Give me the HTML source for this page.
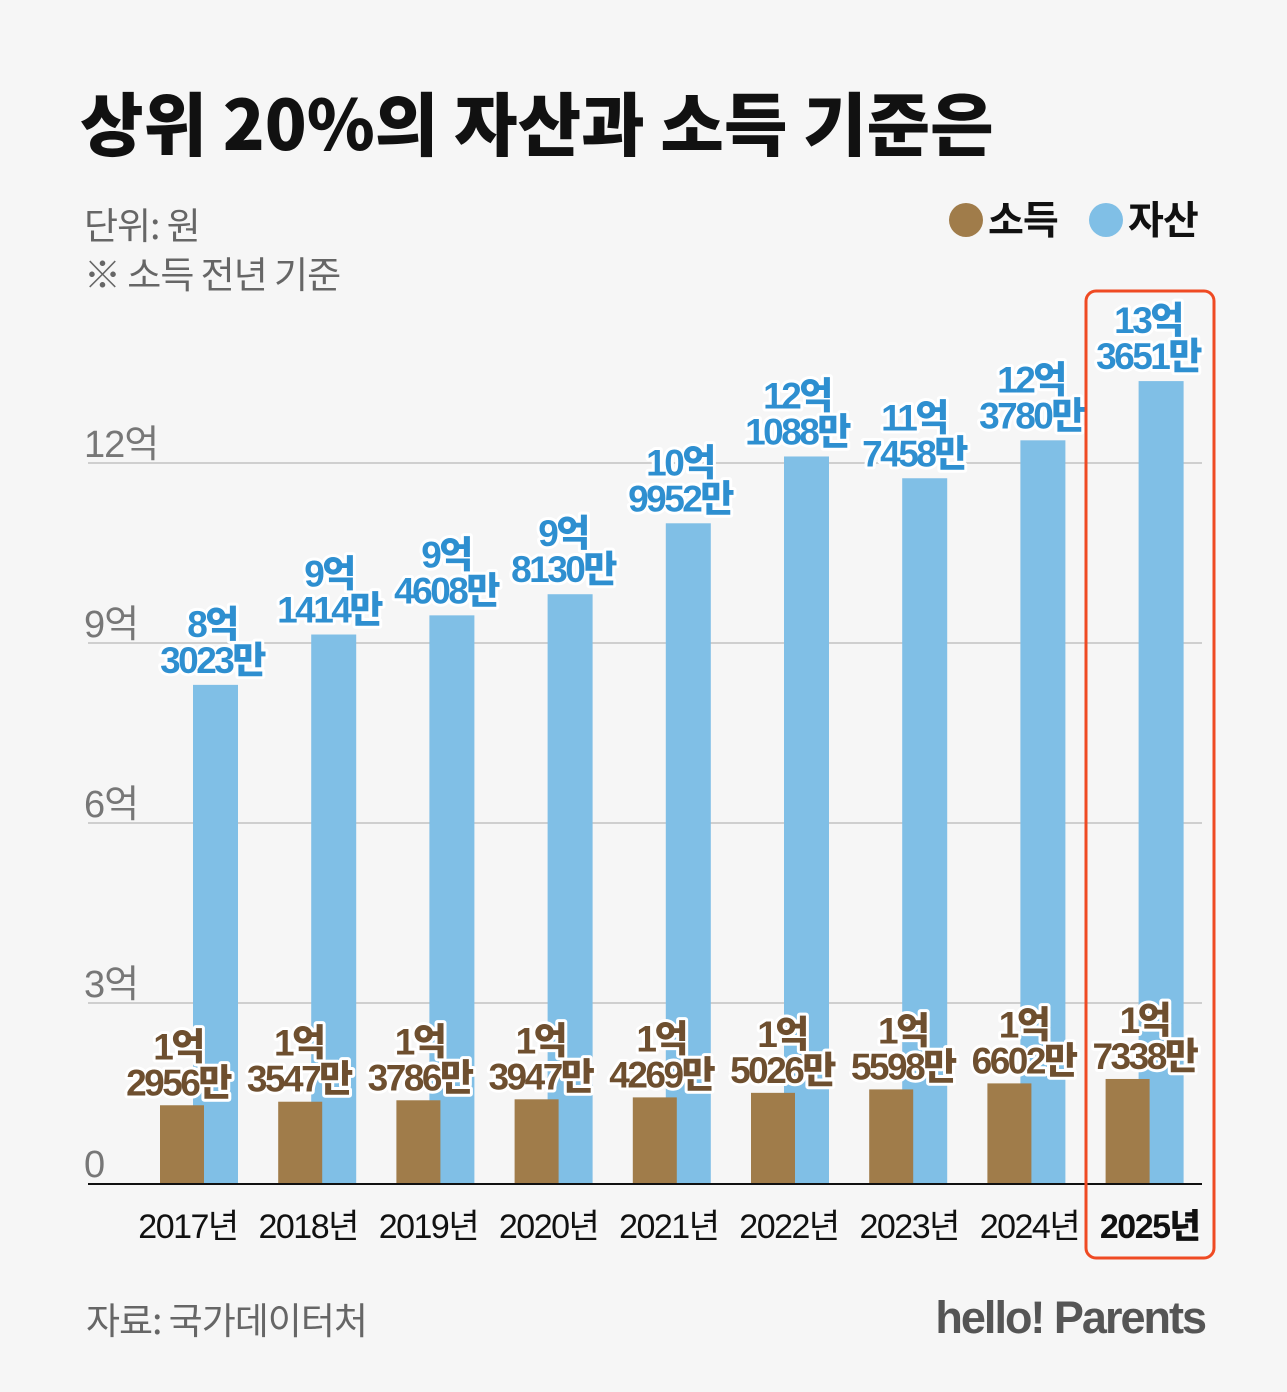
<!DOCTYPE html>
<html><head><meta charset="utf-8">
<style>
html,body{margin:0;padding:0;background:#f6f6f6;}
svg{display:block;font-family:"Liberation Sans","Noto Sans CJK KR",sans-serif;}
</style></head>
<body>
<svg id="chart" width="1287" height="1392" viewBox="0 0 1287 1392">
<rect x="0" y="0" width="1287" height="1392" fill="#f6f6f6"/>
<text x="80" y="150" font-size="69" font-weight="900" fill="#111" letter-spacing="0" font-family="Noto Sans CJK KR, sans-serif">상위 20%의 자산과 소득 기준은</text>
<text x="84" y="239" font-size="37" fill="#666" letter-spacing="-1" font-family="Noto Sans CJK KR, sans-serif">단위: 원</text>
<text x="84" y="288" font-size="37" fill="#666" letter-spacing="-1" font-family="Noto Sans CJK KR, sans-serif">※ 소득 전년 기준</text>
<g>
<circle cx="966" cy="220" r="17" fill="#a07c4a"/>
<text x="988" y="234" font-size="39" font-weight="700" fill="#111" letter-spacing="-1" font-family="Noto Sans CJK KR, sans-serif">소득</text>
<circle cx="1106" cy="220" r="17" fill="#80bfe6"/>
<text x="1128" y="234" font-size="39" font-weight="700" fill="#111" letter-spacing="-1" font-family="Noto Sans CJK KR, sans-serif">자산</text>
</g>
<g id="grid"></g>
<g id="bars"></g>
<g id="labels"></g>
<rect x="1086" y="291" width="128" height="967" rx="10" fill="none" stroke="#ef4a23" stroke-width="3"/>
<text x="86" y="1334" font-size="37" fill="#666" letter-spacing="-1" font-family="Noto Sans CJK KR, sans-serif">자료: 국가데이터처</text>
<text x="1205" y="1333" font-size="45" font-weight="700" fill="#555" text-anchor="end" letter-spacing="-2">hello! Parents</text>
</svg>
<script>
const categories = ["2017년","2018년","2019년","2020년","2021년","2022년","2023년","2024년","2025년"];
const assetValues = [8.3023,9.1414,9.4608,9.8130,10.9952,12.1088,11.7458,12.3780,13.3651];
const incomeValues = [1.2956,1.3547,1.3786,1.3947,1.4269,1.5026,1.5598,1.6602,1.7338];
const assetLine1 = ["8억","9억","9억","9억","10억","12억","11억","12억","13억"];
const assetLine2 = ["3023만","1414만","4608만","8130만","9952만","1088만","7458만","3780만","3651만"];
const incomeLine1 = ["1억","1억","1억","1억","1억","1억","1억","1억","1억"];
const incomeLine2 = ["2956만","3547만","3786만","3947만","4269만","5026만","5598만","6602만","7338만"];
const yTicks = [0,3,6,9,12];
const yTickLabels = ["0","3억","6억","9억","12억"];

const NS="http://www.w3.org/2000/svg";
const y0=1183, pxPer=60;
function yScale(v){return y0 - v*pxPer;}
function xGroup(i){return 160 + i*118.2;}
function mk(tag,attrs,parent){const e=document.createElementNS(NS,tag);for(const k in attrs)e.setAttribute(k,attrs[k]);parent.appendChild(e);return e;}
const grid=document.getElementById('grid'), bars=document.getElementById('bars'), labels=document.getElementById('labels');

yTicks.forEach((t,i)=>{
  const y=yScale(t);
  if(t>0){
    const l=mk('line',{x1:88,x2:1202,y1:y,y2:y,stroke:'#cfcfcf','stroke-width':2},grid);
    
    
  }
  const tx=mk('text',{x:84,y:y-6,'font-size':38,fill:'#777','letter-spacing':'-1'},grid);
  tx.textContent=yTickLabels[i];
  
  
});

categories.forEach((c,i)=>{
  const gx=xGroup(i);
  const ay=yScale(assetValues[i]);
  const ab=mk('rect',{x:gx+33,y:ay,width:45,height:y0-ay,fill:'#80bfe6'},bars);
  
  
  const iy=yScale(incomeValues[i]);
  const ib=mk('rect',{x:gx,y:iy,width:44,height:y0-iy,fill:'#a07c4a'},bars);
  
  

  const acx=212+i*117;
  [[assetLine1[i],ay-48],[assetLine2[i],ay-12]].forEach(([s,yy])=>{
    const t=mk('text',{x:acx,y:yy,'font-size':37,'font-weight':900,fill:'#2e8fd0','text-anchor':'middle','letter-spacing':'-2.5',stroke:'#fff','stroke-width':6,'paint-order':'stroke','stroke-linejoin':'round'},labels);
    t.textContent=s;
    
    
  });
  const icx=178+i*120.8;
  [[incomeLine1[i],iy-46],[incomeLine2[i],iy-10]].forEach(([s,yy])=>{
    const t=mk('text',{x:icx,y:yy,'font-size':37,'font-weight':900,fill:'#6e4f2f','text-anchor':'middle','letter-spacing':'-2.5',stroke:'#fff','stroke-width':6,'paint-order':'stroke','stroke-linejoin':'round'},labels);
    t.textContent=s;
    
    
  });
  const xl=mk('text',{x:188+i*120.2,y:1238,'font-size':34,'font-weight':i===8?900:400,fill:'#111','text-anchor':'middle','letter-spacing':'-1.5'},labels);
  xl.textContent=c;
  
  
});
const ax=mk('line',{x1:88,x2:1202,y1:y0+1,y2:y0+1,stroke:'#111','stroke-width':2},grid);


</script>
</body></html>
